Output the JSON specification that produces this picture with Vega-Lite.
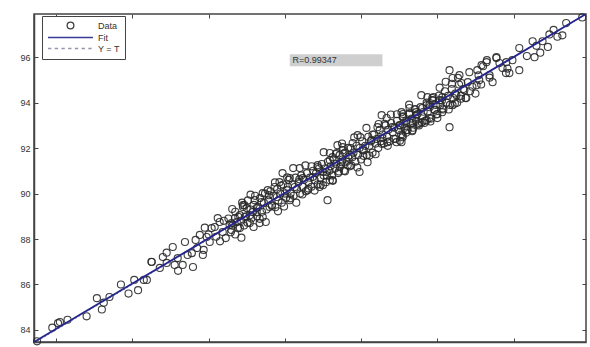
{
  "$schema": "https://vega.github.io/schema/vega-lite/v6.json",
  "width": 552,
  "height": 328,
  "autosize": {"type": "none"},
  "padding": {"left": 34, "top": 14, "right": 4, "bottom": 5},
  "background": "white",
  "config": {
    "view": {"stroke": "#444", "strokeWidth": 1.5},
    "axis": {
      "grid": false,
      "domainColor": "#444",
      "domainWidth": 1.5,
      "tickColor": "#444",
      "tickSize": -4,
      "labelFont": "Liberation Sans",
      "labelFontSize": 9,
      "labelColor": "#333",
      "labelPadding": 8,
      "title": null
    }
  },
  "datasets": {
    "pts": [
      {"t":83.5,"y":83.5},{"t":83.9,"y":84.1},{"t":84.05,"y":84.3},{"t":84.1,"y":84.35},{"t":84.3,"y":84.45},{"t":84.8,"y":84.6},{"t":85.07,"y":85.4},{"t":85.2,"y":84.9},{"t":85.25,"y":85.2},{"t":85.4,"y":85.45},{"t":85.7,"y":86.0},{"t":85.9,"y":85.6},{"t":86.15,"y":85.75},{"t":86.05,"y":86.2},{"t":86.3,"y":86.2},{"t":86.5,"y":87.0},
      {"t":86.51,"y":86.99},{"t":86.8,"y":87.21},{"t":86.9,"y":86.95},{"t":87.06,"y":87.65},{"t":87.11,"y":86.86},{"t":87.32,"y":86.86},{"t":87.38,"y":87.87},{"t":87.59,"y":86.77},{"t":87.56,"y":87.38},{"t":87.77,"y":88.18},{"t":87.95,"y":88.09},{"t":88.08,"y":88.48},{"t":88.16,"y":88.53},{"t":88.37,"y":88.31},{"t":88.55,"y":88.62},{"t":88.69,"y":88.92},{"t":88.82,"y":89.05},{"t":88.9,"y":89.49},{"t":89.0,"y":89.36},{"t":89.08,"y":89.05},{"t":89.16,"y":89.19},{"t":88.29,"y":88.75},{"t":88.03,"y":87.87},{"t":86.72,"y":86.73},{"t":86.38,"y":86.2},
      {"t":87.19,"y":87.16},{"t":87.66,"y":87.96},{"t":87.87,"y":87.52},{"t":88.45,"y":88.04},{"t":88.6,"y":88.4},{"t":88.24,"y":88.92},{"t":87.9,"y":88.5},
      {"t":86.9,"y":87.4},{"t":87.2,"y":86.6},{"t":87.45,"y":87.3},{"t":87.7,"y":87.6},{"t":87.85,"y":87.3},{"t":88.0,"y":88.2},{"t":88.2,"y":88.1},{"t":88.4,"y":88.8},{"t":88.3,"y":87.9},
      {"t":88.74,"y":88.75},{"t":88.95,"y":88.97},{"t":89.08,"y":88.7},{"t":89.26,"y":89.19},{"t":89.39,"y":89.63},{"t":89.42,"y":88.97},{"t":89.6,"y":89.41},{"t":89.79,"y":89.85},{"t":89.73,"y":90.29},{"t":89.86,"y":90.5},{"t":90.05,"y":90.15},{"t":90.13,"y":89.71},{"t":90.26,"y":90.29},{"t":90.39,"y":91.12},{"t":90.47,"y":90.68},{"t":90.6,"y":90.15},{"t":90.73,"y":90.73},{"t":90.86,"y":91.25},{"t":91.0,"y":90.95},{"t":91.12,"y":89.71},{"t":91.18,"y":91.47},{"t":91.36,"y":91.78},{"t":91.52,"y":92.04},{"t":91.49,"y":91.38},{"t":91.25,"y":90.59},{"t":90.91,"y":90.29},{"t":89.94,"y":90.9},{"t":90.13,"y":90.68},{"t":89.55,"y":90.15},{"t":89.21,"y":89.71},{"t":88.9,"y":89.41},{"t":88.6,"y":88.7},{"t":88.82,"y":88.48},{"t":89.34,"y":88.7},
      {"t":91.0,"y":90.37},{"t":91.1,"y":90.95},{"t":91.25,"y":91.6},{"t":91.38,"y":92.13},{"t":91.52,"y":91.91},{"t":91.7,"y":91.69},{"t":91.78,"y":92.22},{"t":91.91,"y":92.57},{"t":92.04,"y":91.91},{"t":92.17,"y":91.38},{"t":92.27,"y":92.35},{"t":92.43,"y":92.92},{"t":92.56,"y":92.44},{"t":92.69,"y":92.26},{"t":92.82,"y":92.92},{"t":92.93,"y":92.26},{"t":93.09,"y":92.48},{"t":93.19,"y":93.14},{"t":93.06,"y":93.58},{"t":93.27,"y":93.76},{"t":93.45,"y":93.45},{"t":93.59,"y":93.14},{"t":93.72,"y":93.89},{"t":93.87,"y":94.11},{"t":93.79,"y":93.32},{"t":92.67,"y":93.32},{"t":92.54,"y":93.45},{"t":93.01,"y":93.01},{"t":93.35,"y":92.79},{"t":91.96,"y":90.95},{"t":91.65,"y":91.25},{"t":91.44,"y":91.16},{"t":91.18,"y":90.59},
      {"t":94.32,"y":95.43},{"t":94.4,"y":95.08},{"t":94.58,"y":95.21},{"t":94.63,"y":94.86},{"t":94.84,"y":95.34},{"t":95.05,"y":95.43},{"t":95.16,"y":95.65},{"t":95.29,"y":95.78},{"t":95.55,"y":95.96},{"t":95.81,"y":95.78},{"t":95.71,"y":95.52},{"t":95.89,"y":95.3},{"t":95.37,"y":95.21},{"t":95.1,"y":94.99},{"t":95.03,"y":94.77},{"t":94.71,"y":94.55},{"t":94.76,"y":94.2},{"t":94.5,"y":94.33},{"t":94.4,"y":93.89},{"t":94.13,"y":94.24},{"t":94.06,"y":94.11},{"t":93.87,"y":94.2},{"t":93.79,"y":93.89},{"t":93.61,"y":93.76},{"t":93.45,"y":93.58},{"t":93.27,"y":93.54},{"t":93.09,"y":93.36},{"t":93.93,"y":93.67},{"t":94.13,"y":93.58},{"t":93.72,"y":93.23},{"t":93.35,"y":93.1},{"t":93.19,"y":92.79},{"t":93.09,"y":92.57},{"t":93.53,"y":93.1},{"t":94.0,"y":93.32},{"t":93.06,"y":92.26},{"t":94.32,"y":92.92},
      {"t":97.8,"y":97.75},{"t":97.38,"y":97.5},{"t":97.28,"y":96.96},{"t":97.15,"y":96.9},{"t":96.94,"y":97.0},{"t":96.76,"y":96.7},{"t":96.5,"y":96.7},{"t":96.6,"y":96.5},{"t":96.7,"y":96.2},{"t":96.55,"y":96.0},{"t":96.15,"y":96.4},{"t":96.35,"y":96.05},{"t":95.97,"y":95.87},{"t":95.55,"y":96.0},{"t":95.63,"y":95.74},{"t":95.3,"y":95.87},{"t":95.2,"y":95.6},{"t":95.84,"y":95.5},{"t":95.8,"y":95.3},{"t":95.37,"y":95.1},{"t":95.45,"y":94.9},{"t":96.15,"y":95.43},{"t":96.9,"y":96.45},{"t":97.05,"y":97.2},
      {"t":88.52,"y":88.9},{"t":88.58,"y":88.3},{"t":88.63,"y":88.6},{"t":88.7,"y":89.2},{"t":88.77,"y":88.5},{"t":88.85,"y":88.8},{"t":88.88,"y":89.6},{"t":88.93,"y":88.6},{"t":88.98,"y":89.0},{"t":89.03,"y":89.7},{"t":89.1,"y":89.3},{"t":89.12,"y":88.9},{"t":89.18,"y":89.5},{"t":89.22,"y":89.9},{"t":89.27,"y":89.0},{"t":89.3,"y":89.4},{"t":89.35,"y":89.8},{"t":89.4,"y":89.2},{"t":89.45,"y":89.6},{"t":89.48,"y":90.0},{"t":89.52,"y":89.3},{"t":89.57,"y":89.7},{"t":89.62,"y":90.1},{"t":89.66,"y":89.5},{"t":89.7,"y":89.9},{"t":89.75,"y":89.4},{"t":89.8,"y":90.2},{"t":89.83,"y":89.7},{"t":89.88,"y":90.0},{"t":89.92,"y":89.6},{"t":89.96,"y":90.4},{"t":90.0,"y":90.0},{"t":90.03,"y":89.8},{"t":90.08,"y":90.3},{"t":90.1,"y":90.6},{"t":90.15,"y":90.0},{"t":90.2,"y":90.4},{"t":90.23,"y":89.9},{"t":90.28,"y":90.7},{"t":90.32,"y":90.2},{"t":90.36,"y":90.5},{"t":90.4,"y":90.0},{"t":90.43,"y":90.8},{"t":90.47,"y":90.3},{"t":90.5,"y":90.6},{"t":90.55,"y":90.1},{"t":90.58,"y":90.9},{"t":90.62,"y":90.5},{"t":90.66,"y":90.7},{"t":90.7,"y":90.3},{"t":90.74,"y":91.0},{"t":90.78,"y":90.6},{"t":90.82,"y":90.9},{"t":90.86,"y":90.4},{"t":90.9,"y":91.1},{"t":90.93,"y":90.7},{"t":90.97,"y":91.3},{"t":91.02,"y":90.8},{"t":91.05,"y":91.1},{"t":91.08,"y":90.5},{"t":91.13,"y":91.4},{"t":91.17,"y":91.0},{"t":91.2,"y":91.2},{"t":91.24,"y":90.8},{"t":91.28,"y":91.5},{"t":91.32,"y":91.1},{"t":91.35,"y":91.3},{"t":91.4,"y":90.9},{"t":91.44,"y":91.7},{"t":91.47,"y":91.3},{"t":91.51,"y":91.5},{"t":91.55,"y":91.0},{"t":91.58,"y":91.8},{"t":91.62,"y":91.4},{"t":91.66,"y":91.6},{"t":91.7,"y":91.2},{"t":91.73,"y":92.0},{"t":91.77,"y":91.6},{"t":91.8,"y":91.8},{"t":91.85,"y":91.4},{"t":91.88,"y":92.1},{"t":91.92,"y":91.7},{"t":91.96,"y":92.0},{"t":92.0,"y":91.5},{"t":92.03,"y":92.3},{"t":92.07,"y":91.9},{"t":92.11,"y":92.1},{"t":92.15,"y":91.7},{"t":92.19,"y":92.5},{"t":92.22,"y":92.1},{"t":92.26,"y":92.3},{"t":92.3,"y":91.8},{"t":92.34,"y":92.6},{"t":92.38,"y":92.2},{"t":92.41,"y":92.4},{"t":92.45,"y":92.0},{"t":92.49,"y":92.8},{"t":92.52,"y":92.3},{"t":92.56,"y":92.6},{"t":92.6,"y":92.2},{"t":92.64,"y":93.0},{"t":92.68,"y":92.5},{"t":92.71,"y":92.8},{"t":92.75,"y":92.3},{"t":92.79,"y":93.1},{"t":92.83,"y":92.7},{"t":92.87,"y":92.9},{"t":92.9,"y":92.4},{"t":92.94,"y":93.2},{"t":92.98,"y":92.8},{"t":93.02,"y":93.0},{"t":93.05,"y":92.6},{"t":93.1,"y":93.4},{"t":93.14,"y":92.9},{"t":93.18,"y":93.2},{"t":93.22,"y":92.8},{"t":93.26,"y":93.5},{"t":93.3,"y":93.1},{"t":93.33,"y":93.3},{"t":93.37,"y":92.9},{"t":93.41,"y":93.7},{"t":93.44,"y":93.2},{"t":93.48,"y":93.5},{"t":93.52,"y":93.0},{"t":93.56,"y":93.8},{"t":93.6,"y":93.4},{"t":93.64,"y":93.6},{"t":93.68,"y":93.2},{"t":93.72,"y":94.0},{"t":93.75,"y":93.6},{"t":93.8,"y":93.8},{"t":93.84,"y":93.3},{"t":93.88,"y":94.1},{"t":93.92,"y":93.7},{"t":93.96,"y":93.9},{"t":94.0,"y":93.5},{"t":94.04,"y":94.3},{"t":94.08,"y":93.9},{"t":94.12,"y":94.1},{"t":94.16,"y":93.7},{"t":94.2,"y":94.5},{"t":94.24,"y":94.0},{"t":94.28,"y":94.3},{"t":94.33,"y":93.9},{"t":94.38,"y":94.6},{"t":94.42,"y":94.2},{"t":94.47,"y":94.4},{"t":94.52,"y":94.0},{"t":94.57,"y":94.8},{"t":94.62,"y":94.3},{"t":94.68,"y":94.6},{"t":94.74,"y":94.2},{"t":94.8,"y":94.9},{"t":94.86,"y":94.5},{"t":94.92,"y":94.7},{"t":95.0,"y":94.4},{"t":95.08,"y":95.2},{"t":95.15,"y":94.8},
      {"t":88.62,"y":89.32},{"t":88.7,"y":88.2},{"t":88.78,"y":88.98},{"t":88.86,"y":88.06},{"t":88.94,"y":89.49},{"t":89.02,"y":88.72},{"t":89.1,"y":89.95},{"t":89.18,"y":88.53},{"t":89.26,"y":89.36},{"t":89.34,"y":88.89},{"t":89.42,"y":90.02},{"t":89.5,"y":88.75},{"t":89.58,"y":89.93},{"t":89.66,"y":89.46},{"t":89.74,"y":90.49},{"t":89.82,"y":89.22},{"t":89.9,"y":90.35},{"t":89.98,"y":89.43},{"t":90.06,"y":90.71},{"t":90.14,"y":89.79},{"t":90.22,"y":91.12},{"t":90.3,"y":89.6},{"t":90.38,"y":90.63},{"t":90.46,"y":89.96},{"t":90.54,"y":91.24},{"t":90.62,"y":90.22},{"t":90.7,"y":91.2},{"t":90.78,"y":90.13},{"t":90.86,"y":91.16},{"t":90.94,"y":90.39},{"t":91.02,"y":91.82},{"t":91.1,"y":90.8},{"t":91.18,"y":91.78},{"t":91.26,"y":90.56},{"t":91.34,"y":91.74},{"t":91.42,"y":90.97},{"t":91.5,"y":92.2},{"t":91.58,"y":90.98},{"t":91.66,"y":92.01},{"t":91.74,"y":91.24},{"t":91.82,"y":92.47},{"t":91.9,"y":91.15},{"t":91.98,"y":92.48},{"t":92.06,"y":91.66},{"t":92.14,"y":92.89},{"t":92.22,"y":91.67},{"t":92.3,"y":92.6},{"t":92.38,"y":91.73},{"t":92.46,"y":93.06},{"t":92.54,"y":92.19},{"t":92.62,"y":93.07},{"t":92.7,"y":92.1},{"t":92.78,"y":93.48},{"t":92.86,"y":92.41},{"t":92.94,"y":93.49},{"t":93.02,"y":92.32},{"t":93.1,"y":93.5},{"t":93.18,"y":92.68},{"t":93.26,"y":93.91},{"t":93.34,"y":92.74},{"t":93.42,"y":93.72},{"t":93.5,"y":93.05},{"t":93.58,"y":94.33},{"t":93.66,"y":93.11},{"t":93.74,"y":94.24},{"t":93.82,"y":93.17},{"t":93.9,"y":94.25},{"t":93.98,"y":93.48},{"t":94.06,"y":94.66},{"t":94.14,"y":93.74},{"t":94.22,"y":94.92},{"t":94.3,"y":93.7},{"t":94.38,"y":94.83},{"t":94.46,"y":93.96},{"t":94.54,"y":95.09},{"t":94.62,"y":94.17}
    ],
    "fit": [{"t":83.42,"y":83.47},{"t":97.9,"y":97.9}],
    "ref": [{"t":83.42,"y":83.42},{"t":97.9,"y":97.9}],
    "note": [{"label":"R=0.99347"}]
  },
  "layer": [
    {
      "data": {"name": "pts"},
      "mark": {"type": "point", "filled": false, "size": 50, "strokeWidth": 1.1, "opacity": 0.9},
      "encoding": {
        "x": {"field": "t", "type": "quantitative", "scale": {"domain": [83.42, 97.9], "nice": false, "zero": false},
              "axis": {"orient": "bottom", "values": [84,86,88,90,92,94,96]}},
        "y": {"field": "y", "type": "quantitative", "scale": {"domain": [83.47, 97.9], "nice": false, "zero": false},
              "axis": {"orient": "left", "values": [84,86,88,90,92,94,96]}},
        "color": {"datum": "Data", "type": "nominal",
                  "scale": {"domain": ["Data","Fit","Y = T"], "range": ["#2a2a2a","#24248f","#8a8aaa"]},
                  "legend": {"orient": "none", "legendX": 8, "legendY": 2, "title": null,
                             "strokeColor": "#444", "fillColor": "white", "padding": 5,
                             "symbolSize": 45, "symbolStrokeWidth": 1.3, "symbolOffset": 19,
                             "labelOffset": 23, "labelFont": "Liberation Sans", "labelFontSize": 9,
                             "labelColor": "#333", "rowPadding": 1}},
        "shape": {"datum": "Data", "type": "nominal",
                  "scale": {"domain": ["Data","Fit","Y = T"],
                            "range": ["circle", "M-6.7,0H6.7", "M-6.7,0H-5.7M-4.7,0H-3.7M-2.7,0H-1.7M-0.7,0H0.3M1.3,0H2.3M3.3,0H4.3M5.3,0H6.3"]}}
      }
    },
    {
      "data": {"name": "ref"},
      "mark": {"type": "line", "strokeWidth": 1, "strokeDash": [2,2], "clip": true},
      "encoding": {
        "x": {"field": "t", "type": "quantitative", "axis": {"orient": "top", "labels": false, "values": [84,86,88,90,92,94,96], "domain": false}},
        "y": {"field": "y", "type": "quantitative", "axis": {"orient": "right", "labels": false, "values": [84,86,88,90,92,94,96], "domain": false}},
        "color": {"datum": "Y = T", "type": "nominal"}
      }
    },
    {
      "data": {"name": "fit"},
      "mark": {"type": "line", "strokeWidth": 1.8, "clip": true},
      "encoding": {
        "x": {"field": "t", "type": "quantitative", "axis": null},
        "y": {"field": "y", "type": "quantitative", "axis": null},
        "color": {"datum": "Fit", "type": "nominal"}
      }
    },
    {
      "data": {"name": "note"},
      "mark": {"type": "rect", "fill": "#cfcfcf"},
      "encoding": {
        "x": {"datum": 90.13, "type": "quantitative", "axis": null},
        "x2": {"datum": 92.56},
        "y": {"datum": 96.13, "type": "quantitative", "axis": null},
        "y2": {"datum": 95.6}
      }
    },
    {
      "data": {"name": "note"},
      "mark": {"type": "text", "align": "left", "baseline": "middle", "font": "Liberation Sans", "fontSize": 9, "color": "#333"},
      "encoding": {
        "x": {"datum": 90.2, "type": "quantitative", "axis": null},
        "y": {"datum": 95.87, "type": "quantitative", "axis": null},
        "text": {"field": "label"}
      }
    }
  ],
  "resolve": {"axis": {"x": "independent", "y": "independent"}}
}
